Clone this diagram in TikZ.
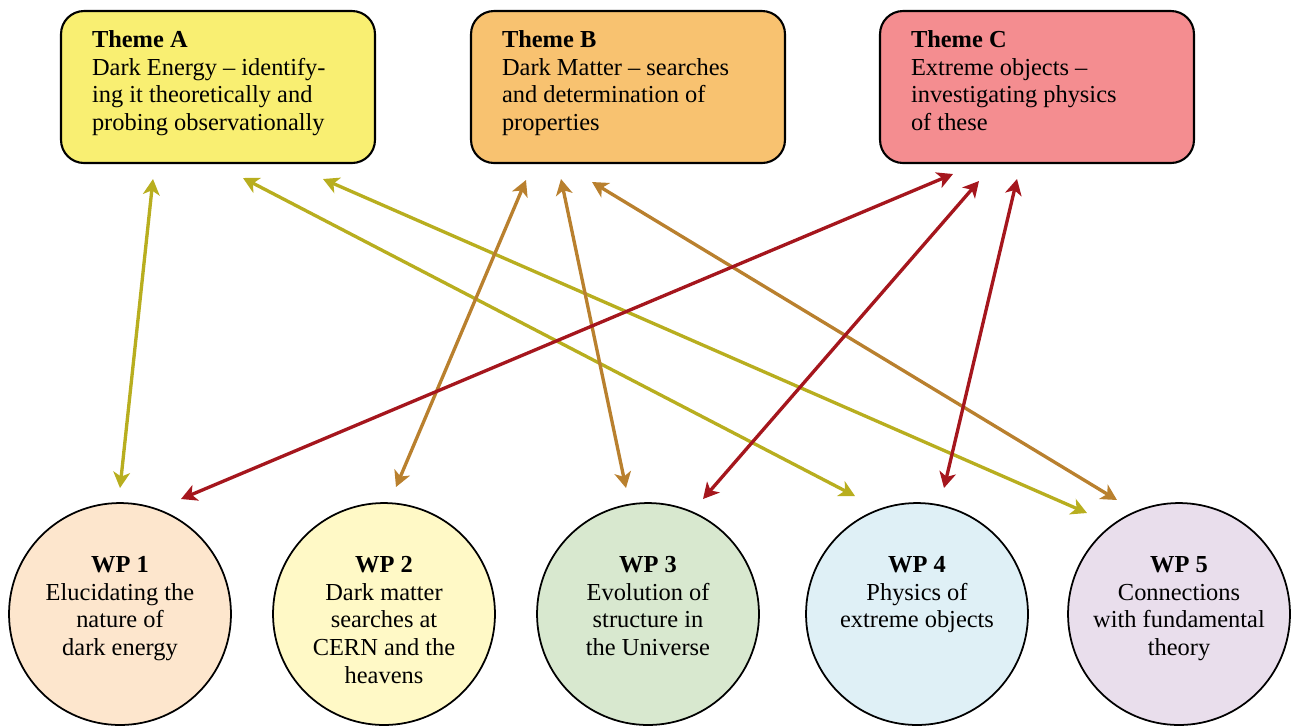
\documentclass[tikz,border=0pt]{standalone}
\usepackage{fontspec}
\setmainfont{Liberation Serif}
\usetikzlibrary{arrows.meta}
\definecolor{themeA}{HTML}{F9EF72}
\definecolor{themeB}{HTML}{F8C270}
\definecolor{themeC}{HTML}{F48D90}
\definecolor{wpA}{HTML}{FDE6CD}
\definecolor{wpB}{HTML}{FFF9C6}
\definecolor{wpC}{HTML}{D8E8CF}
\definecolor{wpD}{HTML}{DFF0F6}
\definecolor{wpE}{HTML}{E9DEEC}
\definecolor{lineA}{HTML}{B8AE1F}
\definecolor{lineB}{HTML}{B9802E}
\definecolor{lineC}{HTML}{A5161D}
\begin{document}
\begin{tikzpicture}[x=0.02cm, y=-0.02cm, >={Stealth[length=9pt,width=9.5pt,inset=2.5pt]},
  theme/.style={draw, line width=1.2pt, rounded corners=0.46cm, minimum width=6.28cm, minimum height=3.04cm, inner sep=0pt, font=\fontsize{13.9}{15.6}\selectfont},
  wp/.style={draw, circle, line width=1pt, minimum size=4.44cm, inner sep=0pt, font=\fontsize{13.9}{15.7}\selectfont},
  link/.style={<->, line width=1.9pt}]
\useasboundingbox (0,0) rectangle (1291,725);
\node[theme, fill=themeA](A) at (218,87){\parbox[c][2.24cm][t]{5.04cm}{\textbf{Theme A}\\Dark Energy -- identify-\\ing it theoretically and\\probing observationally}};
\node[theme, fill=themeB](B) at (628,87){\parbox[c][2.24cm][t]{5.04cm}{\textbf{Theme B}\\Dark Matter -- searches\\and determination of\\properties}};
\node[theme, fill=themeC](C) at (1037,87){\parbox[c][2.24cm][t]{5.04cm}{\textbf{Theme C}\\Extreme objects --\\investigating physics\\of these}};
\node[wp, fill=wpA](W1) at (120,614){\parbox[c][2.3cm][t]{3.7cm}{\centering\textbf{WP 1}\\Elucidating the\\nature of\\dark energy}};
\node[wp, fill=wpB](W2) at (384,614){\parbox[c][2.3cm][t]{3.7cm}{\centering\textbf{WP 2}\\Dark matter\\searches at\\CERN and the\\heavens}};
\node[wp, fill=wpC](W3) at (648,614){\parbox[c][2.3cm][t]{3.7cm}{\centering\textbf{WP 3}\\Evolution of\\structure in\\the Universe}};
\node[wp, fill=wpD](W4) at (917,614){\parbox[c][2.3cm][t]{3.7cm}{\centering\textbf{WP 4}\\Physics of\\extreme objects}};
\node[wp, fill=wpE](W5) at (1179,614){\parbox[c][2.3cm][t]{3.7cm}{\centering\textbf{WP 5}\\Connections\\with fundamental\\theory}};
% arrow ends under the themes
\coordinate (a1) at (153,179);
\coordinate (a4) at (243,178);
\coordinate (a5) at (323,179);
\coordinate (b2) at (526,180);
\coordinate (b3) at (561,179);
\coordinate (b5) at (592,182);
\coordinate (c1) at (953,174);
\coordinate (c3) at (979,181);
\coordinate (c4) at (1017,179);
% arrow ends above the work packages
\coordinate (w1a) at (120,488);
\coordinate (w4a) at (855,496);
\coordinate (w5a) at (1087,513);
\coordinate (w2b) at (396,487);
\coordinate (w3b) at (626,488);
\coordinate (w5b) at (1117,500);
\coordinate (w1c) at (181,499);
\coordinate (w3c) at (703,499);
\coordinate (w4c) at (944,488);
\draw[link, lineA](a1)--(w1a);
\draw[link, lineA](a4)--(w4a);
\draw[link, lineA](a5)--(w5a);
\draw[link, lineB](b2)--(w2b);
\draw[link, lineB](b3)--(w3b);
\draw[link, lineB](b5)--(w5b);
\draw[link, lineC](c1)--(w1c);
\draw[link, lineC](c3)--(w3c);
\draw[link, lineC](c4)--(w4c);
\end{tikzpicture}
\end{document}
